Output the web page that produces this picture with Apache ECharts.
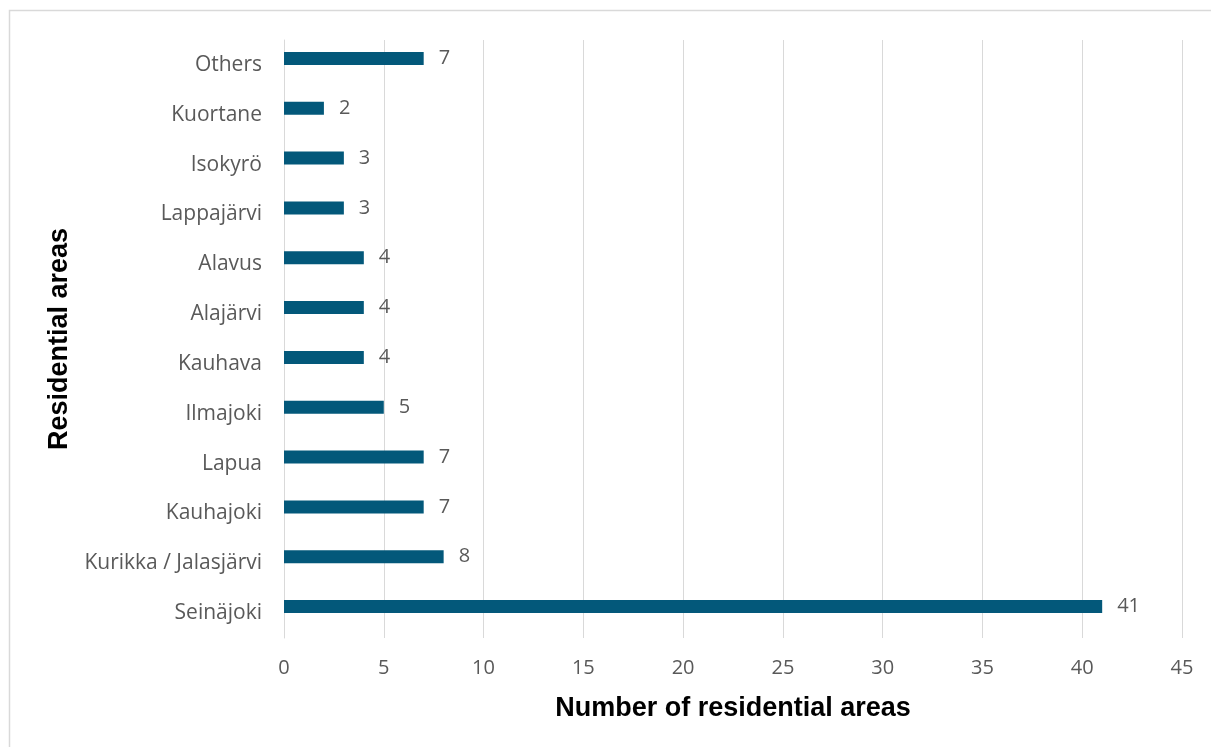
<!DOCTYPE html>
<html>
<head>
<meta charset="utf-8">
<script src="https://cdn.jsdelivr.net/npm/echarts@6/dist/echarts.min.js"></script>
<style>
  html, body { margin: 0; padding: 0; background: #fff; }
  #chart { width: 1211px; height: 747px; }
</style>
</head>
<body>
<div id="chart"></div>
<script>
// Residential areas, listed top to bottom
const categories = ['Others', 'Kuortane', 'Isokyrö', 'Lappajärvi', 'Alavus', 'Alajärvi',
  'Kauhava', 'Ilmajoki', 'Lapua', 'Kauhajoki', 'Kurikka / Jalasjärvi', 'Seinäjoki'];
const counts = [7, 2, 3, 3, 4, 4, 4, 5, 7, 7, 8, 41];
const xTicks = { min: 0, max: 45, interval: 5 };

const labelColor = '#595959';
const labelFont = '"Open Sans", sans-serif';
const titleFont = '"Liberation Sans", Arial, sans-serif';

const chart = echarts.init(document.getElementById('chart'));
chart.setOption({
  animation: false,
  graphic: [{
    type: 'rect',
    shape: { x: 9.5, y: 10.5, width: 1300, height: 800 },
    style: { fill: 'none', stroke: '#d9d9d9', lineWidth: 1.5 },
    silent: true
  }],
  grid: { left: 284, right: 29, top: 40, bottom: 109 },
  xAxis: {
    type: 'value',
    min: xTicks.min, max: xTicks.max, interval: xTicks.interval,
    name: 'Number of residential areas',
    nameLocation: 'middle',
    nameGap: 57,
    nameTextStyle: { fontFamily: titleFont, fontWeight: 'bold', fontSize: 27, color: '#000' },
    axisLine: { show: false },
    axisTick: { show: false },
    axisLabel: { color: labelColor, fontFamily: labelFont, fontSize: 20, margin: 20 },
    splitLine: { lineStyle: { color: '#d9d9d9', width: 1 } }
  },
  yAxis: {
    type: 'category',
    inverse: true,
    data: categories,
    name: 'Residential areas',
    nameLocation: 'middle',
    nameGap: 211,
    nameRotate: 90,
    nameTextStyle: { fontFamily: titleFont, fontWeight: 'bold', fontSize: 27, color: '#000' },
    axisLine: { show: true, lineStyle: { color: '#d9d9d9', width: 1 } },
    axisTick: { show: false },
    axisLabel: { color: labelColor, fontFamily: labelFont, fontSize: 21, margin: 22, padding: [4, 0, 0, 0] }
  },
  series: [{
    type: 'bar',
    data: counts,
    barWidth: 13,
    barGap: '0%',
    itemStyle: { color: '#03587a' },
    label: {
      show: true, position: 'right', distance: 15, padding: [4, 0, 0, 0],
      color: labelColor, fontFamily: labelFont, fontSize: 20
    }
  }, {
    type: 'bar',
    data: counts.map(() => null),
    barWidth: 13,
    barGap: '0%'
  }]
});
</script>
</body>
</html>
